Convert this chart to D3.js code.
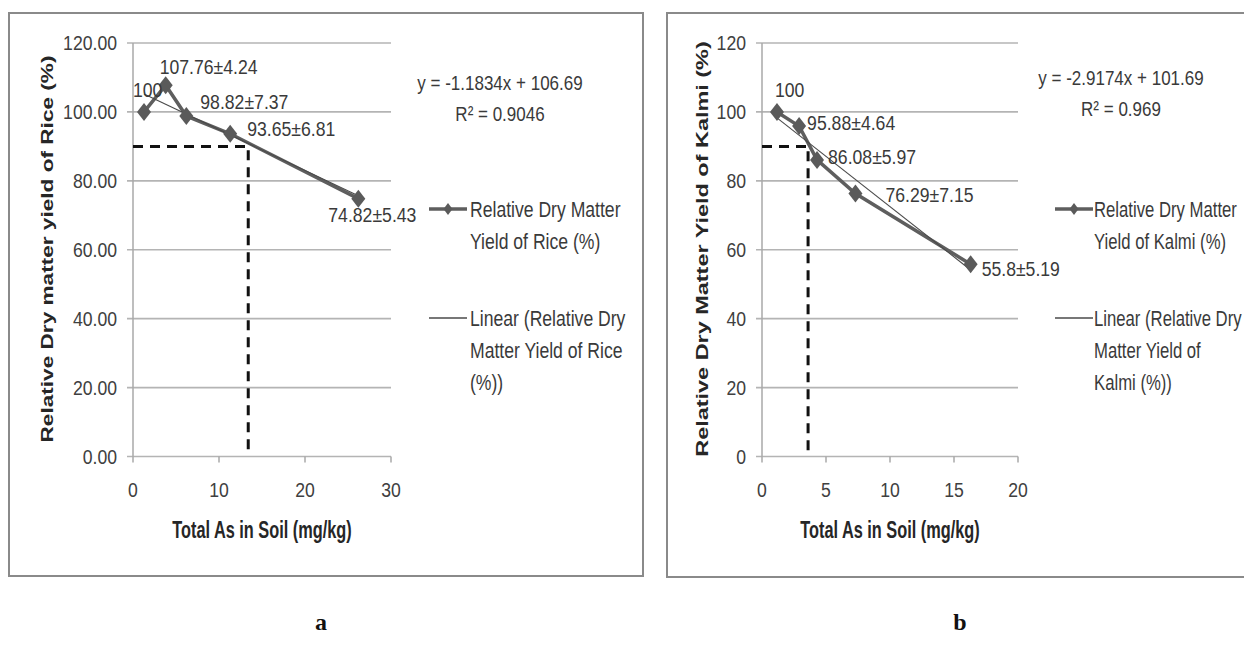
<!DOCTYPE html>
<html><head><meta charset="utf-8">
<script src="https://cdn.jsdelivr.net/npm/d3@7/dist/d3.min.js"></script>
<style>html,body{margin:0;padding:0;background:#fff;}svg{display:block;}</style>
</head><body>
<svg id="chart" width="1244" height="656"></svg>
<script>
// ---------- DATA ----------
const riceX = [1.28, 3.8, 6.2, 11.3, 26.2];
const riceY = [100, 107.76, 98.82, 93.65, 74.82];
const riceLabels = ["100", "107.76±4.24", "98.82±7.37", "93.65±6.81", "74.82±5.43"];
const riceTrend = [-1.1834, 106.69];   // slope, intercept
const riceR2 = "0.9046";
const riceThreshold = [13.4, 90];      // dashed guide (x, y)
const riceXTicks = [0, 10, 20, 30];
const riceYTicks = [0, 20, 40, 60, 80, 100, 120];

const kalmiX = [1.17, 2.9, 4.3, 7.3, 16.3];
const kalmiY = [100, 95.88, 86.08, 76.29, 55.8];
const kalmiLabels = ["100", "95.88±4.64", "86.08±5.97", "76.29±7.15", "55.8±5.19"];
const kalmiTrend = [-2.9174, 101.69];
const kalmiR2 = "0.969";
const kalmiThreshold = [3.6, 90];
const kalmiXTicks = [0, 5, 10, 15, 20];
const kalmiYTicks = [0, 20, 40, 60, 80, 100, 120];

const xTitle = "Total As in Soil (mg/kg)";
const riceYTitle = "Relative Dry matter yield of Rice (%)";
const kalmiYTitle = "Relative Dry Matter Yield of Kalmi (%)";
const riceLegend = [["Relative Dry Matter", "Yield of Rice (%)"], ["Linear (Relative Dry", "Matter Yield of Rice", "(%))"]];
const kalmiLegend = [["Relative Dry Matter", "Yield of Kalmi (%)"], ["Linear (Relative Dry", "Matter Yield of", "Kalmi (%))"]];
const panelLetters = ["a", "b"];

// ---------- DRAW ----------
const svg = d3.select("#chart");
const SANS = "'Liberation Sans', Arial, sans-serif";

// text with horizontal condensing: font-size scaled by f, then stretched vertically back
function T(parent, str, x, y, o) {
  const f = o.f || 1;
  const rot = o.rotate ? ` rotate(${o.rotate})` : "";
  const t = parent.append("text")
    .attr("x", 0).attr("y", 0).attr("dy", "0.35em")
    .attr("transform", `translate(${x},${y})${rot} scale(1,${1 / f})`)
    .attr("text-anchor", o.anchor || "start")
    .attr("fill", o.fill || "#3a3a3a")
    .style("font-family", o.family || SANS)
    .style("font-size", (o.size * f) + "px")
    .style("font-weight", o.weight || "normal")
    .text(str);
  return t;
}

function diamond(hw, hh) {
  return `M0,${-hh}L${hw},0L0,${hh}L${-hw},0Z`;
}

const panels = [
  { box: [9, 13, 643, 576], xr: [133, 391], xd: [0, 30], xs: riceX, ys: riceY, labels: riceLabels,
    trend: riceTrend, r2: riceR2, thr: riceThreshold, xt: riceXTicks, yt: riceYTicks, yfmt: d => d.toFixed(2),
    ytitle: riceYTitle, ytx: 47, ytf: 1.33, legend: riceLegend, eqx: 500, eqy: 83,
    lgx: 38, lgt: 41, lgf: 0.80,
    offs: [[-11, -22], [-6, -19], [14, -14], [17, -5], [-30, 16]], letterX: 321 },
  { box: [667, 13, 1260, 577], xr: [762, 1018], xd: [0, 20], xs: kalmiX, ys: kalmiY, labels: kalmiLabels,
    trend: kalmiTrend, r2: kalmiR2, thr: kalmiThreshold, xt: kalmiXTicks, yt: kalmiYTicks, yfmt: d => String(d),
    ytitle: kalmiYTitle, ytx: 702, ytf: 1.38, legend: kalmiLegend, eqx: 1121, eqy: 78,
    lgx: 37, lgt: 39, lgf: 0.76,
    offs: [[-2, -22], [8, -3], [11, -3], [30, 1], [11, 4]], letterX: 960 }
];

panels.forEach((p, pi) => {
  const g = svg.append("g");
  // frame
  g.append("rect").attr("x", p.box[0]).attr("y", p.box[1])
    .attr("width", Math.min(p.box[2], 1250) - p.box[0]).attr("height", p.box[3] - p.box[1])
    .attr("fill", "none").attr("stroke", "#8a8a8a").attr("stroke-width", 2);

  const x = d3.scaleLinear().domain(p.xd).range(p.xr);
  const y = d3.scaleLinear().domain([0, 120]).range([456.5, 43]);

  // gridlines
  g.append("g").selectAll("line").data(p.yt).join("line")
    .attr("x1", p.xr[0] - 6).attr("x2", p.xr[1])
    .attr("y1", d => y(d)).attr("y2", d => y(d))
    .attr("stroke", "#b4b4b4").attr("stroke-width", 1.6);
  // y axis line
  g.append("line").attr("x1", p.xr[0]).attr("x2", p.xr[0]).attr("y1", y(120)).attr("y2", y(0))
    .attr("stroke", "#a8a8a8").attr("stroke-width", 1.5);
  // x ticks
  g.append("g").selectAll("line").data(p.xt).join("line")
    .attr("x1", d => x(d)).attr("x2", d => x(d)).attr("y1", y(0)).attr("y2", y(0) + 6)
    .attr("stroke", "#a8a8a8").attr("stroke-width", 1.5);

  // tick labels
  p.yt.forEach(d => T(g, p.yfmt(d), p.xr[0] - 16, y(d), { size: 21, f: 0.84, anchor: "end", fill: "#404040" }));
  p.xt.forEach(d => T(g, String(d), x(d), 490, { size: 21, f: 0.84, anchor: "middle", fill: "#404040" }));

  // axis titles
  T(g, xTitle, (p.xr[0] + p.xr[1]) / 2, 530, { size: 23, weight: "bold", f: 0.71, anchor: "middle", fill: "#262626" });
  T(g, p.ytitle, p.ytx, 249, { size: 17, weight: "bold", f: p.ytf, anchor: "middle", rotate: -90, fill: "#262626" });

  // dashed guide
  g.append("path")
    .attr("d", `M${x(0)},${y(p.thr[1])}H${x(p.thr[0])}V${y(0) - 6}`)
    .attr("fill", "none").attr("stroke", "#111").attr("stroke-width", 3)
    .attr("stroke-dasharray", "10,7");

  const pts = p.xs.map((v, i) => [v, p.ys[i]]);
  // series line
  g.append("path").datum(pts)
    .attr("d", d3.line().x(d => x(d[0])).y(d => y(d[1])))
    .attr("fill", "none").attr("stroke", "#5e5e5e").attr("stroke-width", 3.5);
  // trend line
  const tx = d3.extent(p.xs);
  g.append("path").datum(tx.map(v => [v, p.trend[0] * v + p.trend[1]]))
    .attr("d", d3.line().x(d => x(d[0])).y(d => y(d[1])))
    .attr("fill", "none").attr("stroke", "#4a4a4a").attr("stroke-width", 1.1);
  // markers
  g.append("g").selectAll("path").data(pts).join("path")
    .attr("d", diamond(7, 9))
    .attr("transform", d => `translate(${x(d[0])},${y(d[1])})`)
    .attr("fill", "#5a5a5a");
  // data labels
  pts.forEach((d, i) => T(g, p.labels[i], x(d[0]) + p.offs[i][0], y(d[1]) + p.offs[i][1], { size: 21, f: 0.84, fill: "#3a3a3a" }));

  // equation
  const sign = p.trend[1] >= 0 ? "+" : "-";
  T(g, `y = ${p.trend[0]}x ${sign} ${Math.abs(p.trend[1])}`, p.eqx, p.eqy, { size: 21, f: 0.81, anchor: "middle" });
  T(g, `R² = ${p.r2}`, p.eqx, p.eqy + 31, { size: 21, f: 0.81, anchor: "middle" });

  // legend
  const lx = p.xr[1] + p.lgx;
  const ly1 = 209, ly2 = 318;
  g.append("line").attr("x1", lx).attr("x2", lx + 38).attr("y1", ly1).attr("y2", ly1)
    .attr("stroke", "#5e5e5e").attr("stroke-width", 3.5);
  g.append("path").attr("d", diamond(4.5, 6)).attr("transform", `translate(${lx + 19},${ly1})`).attr("fill", "#5a5a5a");
  p.legend[0].forEach((s, i) => T(g, s, lx + p.lgt, ly1 + i * 32, { size: 22, f: p.lgf }));
  g.append("line").attr("x1", lx).attr("x2", lx + 38).attr("y1", ly2).attr("y2", ly2)
    .attr("stroke", "#4a4a4a").attr("stroke-width", 1.3);
  p.legend[1].forEach((s, i) => T(g, s, lx + p.lgt, ly2 + i * 32, { size: 22, f: p.lgf }));

  // panel letter
  T(svg, panelLetters[pi], p.letterX, 622, { size: 24, weight: "bold", family: "'Liberation Serif', 'Times New Roman', serif", anchor: "middle", fill: "#111" });
});
</script>
</body></html>
